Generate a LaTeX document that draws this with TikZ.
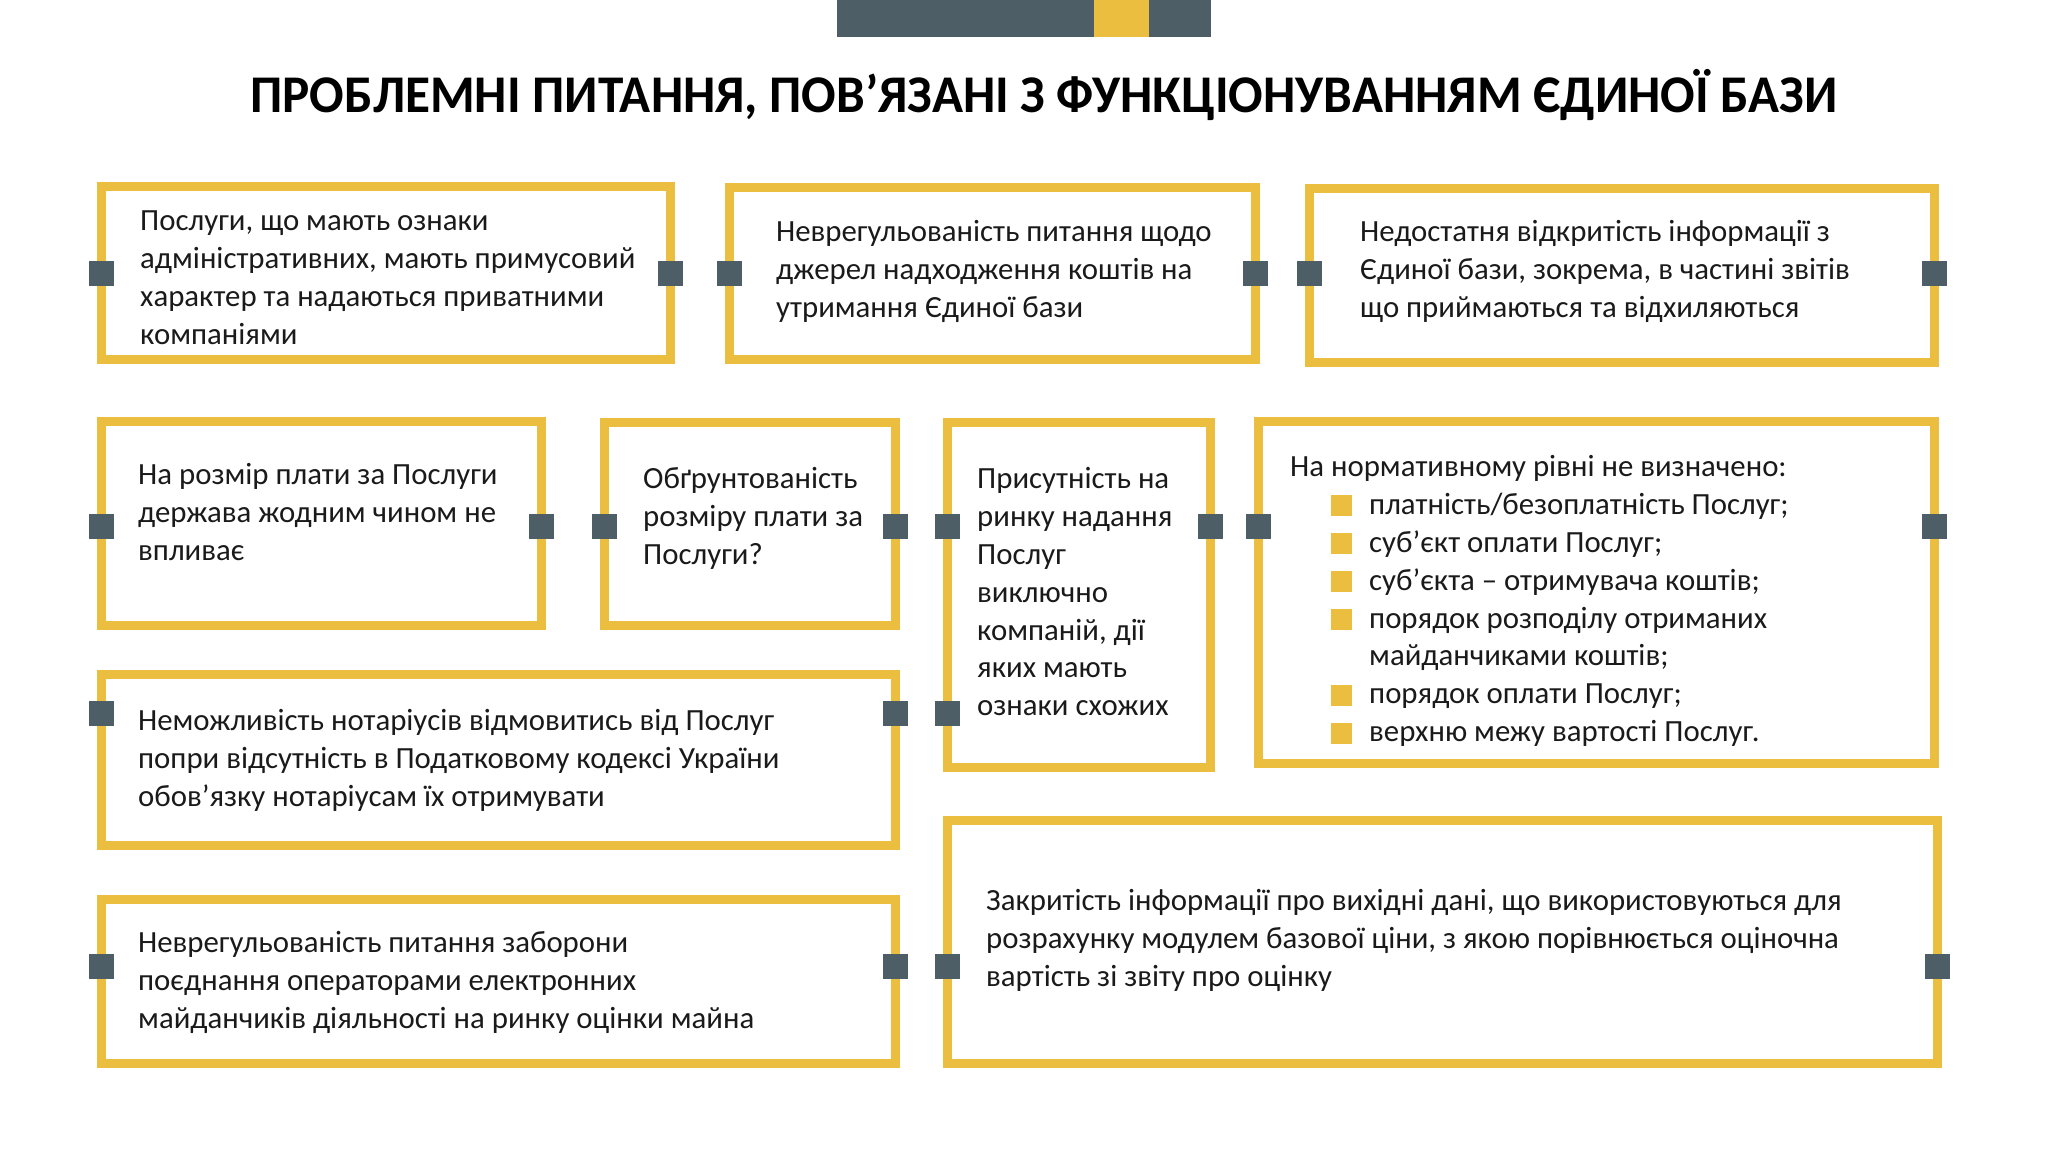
\documentclass[tikz,border=0pt]{standalone}
\usepackage{fontspec}
\setmainfont{Carlito}
\usepackage{graphicx}
\definecolor{gold}{RGB}{236,190,64}
\definecolor{slate}{RGB}{78,94,103}
\definecolor{ink}{RGB}{26,26,26}
\pgfdeclarelayer{bg}
\pgfsetlayers{bg,main}
\newcommand\bx[5]{\node[box, minimum width={#4-#2-9}, minimum height={#5-#3-9}] (#1) at ({(#2+#4)/2},{(#3+#5)/2}) {};}
\newcommand\yb{\makebox[79pt][l]{\hspace*{41pt}\textcolor{gold}{\rule[-2pt]{21pt}{21pt}}}}
\begin{document}
\begin{tikzpicture}[x=1pt,y=-1pt,
 box/.style={draw=gold, line width=9pt, fill=white, outer sep=0pt, inner sep=0pt},
 conn/.style={draw=gold, line width=5pt},
 sq/.style={fill=slate, minimum width=25pt, minimum height=25pt, inner sep=0pt, outer sep=0pt},
 txt/.style={anchor=north west, inner sep=0pt, align=left, text=ink, font=\fontsize{30.8}{37.9}\selectfont, execute at begin node=\strut},
]
\useasboundingbox (0,0) rectangle (2048,1152);
\fill[white] (0,0) rectangle (2048,1152);
% top bar
\fill[slate] (837,0) rectangle (1211,37);
\fill[gold] (1094,0) rectangle (1149,37);
% title
\node[anchor=base, inner sep=0pt, text=black, font=\fontsize{53}{60}\selectfont\bfseries] (title) at (1044,112)
 {\resizebox{1587pt}{\height}{ПРОБЛЕМНІ ПИТАННЯ, ПОВ’ЯЗАНІ З ФУНКЦІОНУВАННЯМ ЄДИНОЇ БАЗИ}};
% boxes
\bx{b1}{97}{182}{675}{364}
\bx{b2}{725}{183}{1260}{364}
\bx{b3}{1305}{184}{1939}{367}
\bx{b4}{97}{417}{546}{630}
\bx{b5}{600}{418}{900}{630}
\bx{b6}{943}{418}{1215}{772}
\bx{b7}{1254}{417}{1939}{768}
\bx{b8}{97}{670}{900}{850}
\bx{b9}{97}{895}{900}{1068}
\bx{b10}{943}{816}{1942}{1068}
% row coordinates
\coordinate (r1) at (0,273); \coordinate (r1e) at (2048,273);
\coordinate (r2) at (0,526); \coordinate (r2e) at (2048,526);
\coordinate (r3) at (0,713);
\coordinate (r4) at (0,966); \coordinate (r4e) at (2048,966);
\begin{pgfonlayer}{bg}
\draw[conn] (r1) -- (r1 -| b1.west) (r1 -| b1.east) -- (r1 -| b2.west) (r1 -| b2.east) -- (r1 -| b3.west) (r1 -| b3.east) -- (r1e);
\draw[conn] (r2) -- (r2 -| b4.west) (r2 -| b4.east) -- (r2 -| b5.west) (r2 -| b5.east) -- (r2 -| b6.west) (r2 -| b6.east) -- (r2 -| b7.west) (r2 -| b7.east) -- (r2e);
\draw[conn] (r3) -- (r3 -| b8.west) (r3 -| b8.east) -- (r3 -| b6.west);
\draw[conn] (r4) -- (r4 -| b9.west) (r4 -| b9.east) -- (r4 -| b10.west) (r4 -| b10.east) -- (r4e);
\end{pgfonlayer}
% squares
\node[sq] (s1a) at (r1 -| b1.west) {};
\node[sq] (s1b) at (r1 -| b1.east) {};
\node[sq] (s1c) at (r1 -| b2.west) {};
\node[sq] (s1d) at (r1 -| b2.east) {};
\node[sq] (s1e) at (r1 -| b3.west) {};
\node[sq] (s1f) at (r1 -| b3.east) {};
\node[sq] (s2a) at (r2 -| b4.west) {};
\node[sq] (s2b) at (r2 -| b4.east) {};
\node[sq] (s2c) at (r2 -| b5.west) {};
\node[sq] (s2d) at (r2 -| b5.east) {};
\node[sq] (s2e) at (r2 -| b6.west) {};
\node[sq] (s2f) at (r2 -| b6.east) {};
\node[sq] (s2g) at (r2 -| b7.west) {};
\node[sq] (s2h) at (r2 -| b7.east) {};
\node[sq] (s3a) at (r3 -| b8.west) {};
\node[sq] (s3b) at (r3 -| b8.east) {};
\node[sq] (s3c) at (r3 -| b6.west) {};
\node[sq] (s4a) at (r4 -| b9.west) {};
\node[sq] (s4b) at (r4 -| b9.east) {};
\node[sq] (s4c) at (r4 -| b10.west) {};
\node[sq] (s4d) at (r4 -| b10.east) {};
% texts
\node[txt] (t1) at (140,211) {Послуги, що мають ознаки\\адміністративних, мають примусовий\\характер та надаються приватними\\компаніями};
\node[txt] (t2) at (776,220) {Неврегульованість питання щодо\\джерел надходження коштів на\\утримання Єдиної бази};
\node[txt] (t3) at (1360,220) {Недостатня відкритість інформації з\\Єдиної бази, зокрема, в частині звітів\\що приймаються та відхиляються};
\node[txt] (t4) at (138,463) {На розмір плати за Послуги\\держава жодним чином не\\впливає};
\node[txt] (t5) at (643,467) {Обґрунтованість\\розміру плати за\\Послуги?};
\node[txt] (t6) at (977,467) {Присутність на\\ринку надання\\Послуг\\виключно\\компаній, дії\\яких мають\\ознаки схожих};
\node[txt] (t7) at (1290,455) {На нормативному рівні не визначено:\\
\yb платність/безоплатність Послуг;\\
\yb суб’єкт оплати Послуг;\\
\yb суб’єкта – отримувача коштів;\\
\yb порядок розподілу отриманих\\
\hspace*{79pt}майданчиками коштів;\\
\yb порядок оплати Послуг;\\
\yb верхню межу вартості Послуг.};
\node[txt] (t8) at (138,709) {Неможливість нотаріусів відмовитись від Послуг\\попри відсутність в Податковому кодексі України\\обов’язку нотаріусам їх отримувати};
\node[txt] (t9) at (138,931) {Неврегульованість питання заборони\\поєднання операторами електронних\\майданчиків діяльності на ринку оцінки майна};
\node[txt] (t10) at (986,889) {Закритість інформації про вихідні дані, що використовуються для\\розрахунку модулем базової ціни, з якою порівнюється оціночна\\вартість зі звіту про оцінку};
\end{tikzpicture}
\end{document}
